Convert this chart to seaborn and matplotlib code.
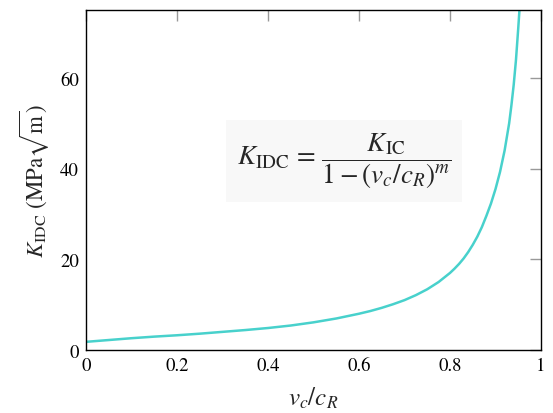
import matplotlib
matplotlib.use("Agg")
import matplotlib.pyplot as plt
import seaborn as sns
import pandas as pd

# values
ratio = [0.00, 0.05, 0.10, 0.15, 0.20, 0.25, 0.30, 0.35, 0.40, 0.45, 0.50,
         0.55, 0.60, 0.625, 0.65, 0.675, 0.70, 0.725, 0.75, 0.775, 0.79,
         0.80, 0.81, 0.82, 0.83, 0.84, 0.85, 0.86, 0.87, 0.88, 0.89,
         0.90, 0.91, 0.92, 0.93, 0.935, 0.94, 0.945, 0.95, 0.953]
k_idc = [1.8, 2.2, 2.6, 2.95, 3.25, 3.6, 4.0, 4.4, 4.85, 5.4, 6.1,
         6.95, 8.0, 8.6, 9.3, 10.1, 11.0, 12.1, 13.4, 15.0, 16.2,
         17.0, 17.95, 19.0, 20.2, 21.6, 23.2, 25.0, 27.1, 29.6, 32.3,
         35.5, 39.3, 44.0, 50.0, 54.0, 58.5, 64.0, 71.0, 75.5]
x_ticks = [0, 0.2, 0.4, 0.6, 0.8, 1]
x_ticklabels = ["0", "0.2", "0.4", "0.6", "0.8", "1"]
y_ticks = [0, 20, 40, 60]

sns.set_theme(style="white")
plt.rcParams["font.family"] = ["STIXGeneral", "DejaVu Serif"]
plt.rcParams["mathtext.fontset"] = "stix"

df = pd.DataFrame({"ratio": ratio, "k": k_idc})

fig = plt.figure(figsize=(5.53, 4.14), dpi=100)
ax = fig.add_axes([86/553, 1-351/414, (541-86)/553, (351-11)/414])
sns.lineplot(data=df, x="ratio", y="k", ax=ax, color="#48D1CC", linewidth=1.8)

ax.set_xlim(0, 1)
ax.set_ylim(0, 75)
ax.set_xticks(x_ticks)
ax.set_xticklabels(x_ticklabels)
ax.set_yticks(y_ticks)
ax.tick_params(axis="both", which="major", direction="in", length=8, width=1,
               color="#999999", labelsize=13.5, top=True, right=True,
               labelcolor="black", pad=5)
for s in ax.spines.values():
    s.set_color("black")
    s.set_linewidth(1.0)

ax.set_xlabel(r"$v_c/c_R$", fontsize=18, labelpad=8)
ax.set_ylabel(r"$K_{\mathrm{IDC}}$ (MPa$\sqrt{\mathrm{m}}$)", fontsize=16.5, labelpad=6)

ax.text(0.567, 41.7,
        r"$K_{\mathrm{IDC}}\,=\,\dfrac{K_{\mathrm{IC}}}{1-(v_c/c_R)^m}$",
        fontsize=19.5, ha="center", va="center",
        bbox=dict(facecolor="#f8f8f8", edgecolor="none", pad=8))

fig.savefig("out.png", dpi=100)
